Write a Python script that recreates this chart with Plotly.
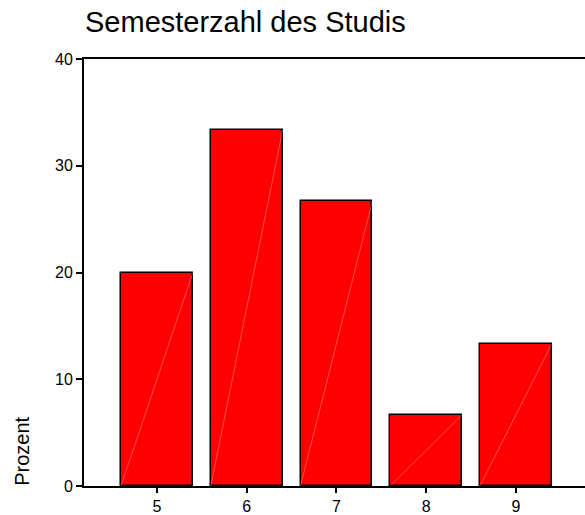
import plotly.graph_objects as go

semester = [5, 6, 7, 8, 9]
prozent = [20.0, 33.33, 26.67, 6.67, 13.33]
y_ticks = [0, 10, 20, 30, 40]

fig = go.Figure()
fig.add_trace(go.Bar(
    x=semester,
    y=prozent,
    width=0.8,
    marker=dict(color="#ff0000", line=dict(color="black", width=1.5)),
    showlegend=False,
))

# faint diagonal inside each bar (SPSS rendering artefact)
for s, p in zip(semester, prozent):
    fig.add_trace(go.Scatter(
        x=[s - 0.4, s + 0.4],
        y=[0, p],
        mode="lines",
        line=dict(color="rgba(255,255,255,0.3)", width=1),
        hoverinfo="skip",
        showlegend=False,
    ))

fig.update_layout(
    width=585,
    height=515,
    margin=dict(l=84, r=0, t=59, b=29),
    plot_bgcolor="white",
    paper_bgcolor="white",
    font=dict(family="Liberation Sans, Arial", color="black", size=16),
    title=dict(
        text="Semesterzahl des Studis",
        x=85 / 585,
        xanchor="left",
        y=1 - 22 / 515,
        yanchor="middle",
        font=dict(size=29),
    ),
    bargap=0,
)
fig.update_xaxes(
    range=[4.187, 9.77],
    tickvals=semester,
    showgrid=False,
    zeroline=False,
    showline=True,
    linecolor="black",
    linewidth=2,
    mirror=True,
    ticks="outside",
    ticklen=5,
    tickwidth=1.5,
    tickcolor="black",
    automargin=False,
)
fig.update_yaxes(
    range=[0, 40],
    tickvals=y_ticks,
    showgrid=False,
    zeroline=False,
    showline=True,
    linecolor="black",
    linewidth=2,
    ticks="outside",
    ticklen=6,
    tickwidth=1.5,
    tickcolor="black",
    automargin=False,
)
fig.add_annotation(
    text="Prozent",
    textangle=-90,
    xref="paper",
    yref="paper",
    x=-62 / 501,
    y=0.08,
    xanchor="center",
    yanchor="middle",
    showarrow=False,
    font=dict(size=20),
)

fig.write_html(
    "out.html",
    config={"displayModeBar": False},
    post_script="document.body.style.margin='0';",
)
